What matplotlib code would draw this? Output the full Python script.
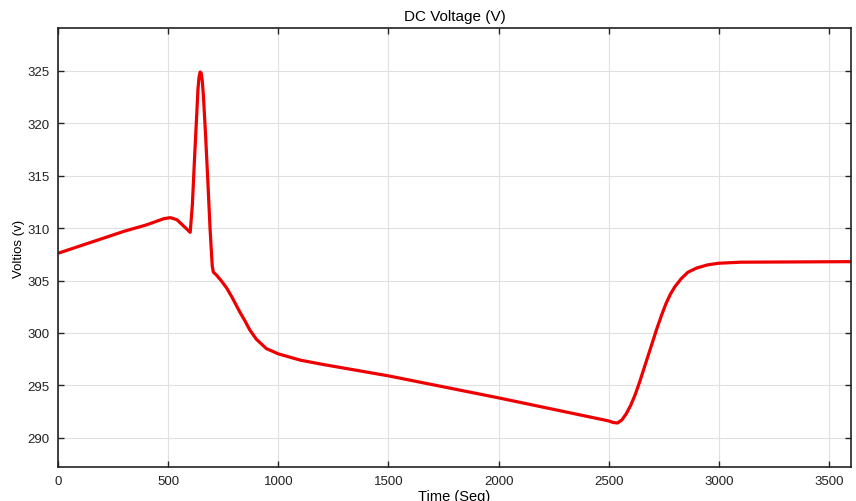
import matplotlib
matplotlib.use("Agg")
import matplotlib.pyplot as plt

# Datos (tiempo en segundos, voltaje DC en voltios)
tiempo = [0, 100, 200, 300, 400, 480, 510, 540, 570, 600, 610, 620, 630, 635,
          640, 645, 650, 655, 660, 670, 680, 690, 700, 705, 720, 740, 765, 790,
          825, 850, 870, 900, 946, 1000, 1100, 1200, 1500, 2000, 2500, 2520,
          2540, 2560, 2580, 2600, 2620, 2640, 2660, 2680, 2700, 2720, 2740,
          2760, 2780, 2800, 2830, 2860, 2900, 2950, 3000, 3100, 3600]
voltaje = [307.6, 308.3, 309.0, 309.7, 310.3, 310.9, 311.0, 310.8, 310.2, 309.6,
           312.3, 316.8, 321.0, 323.2, 324.4, 324.9, 324.8, 324.0, 322.6, 318.8,
           314.5, 310.0, 306.4, 305.8, 305.5, 305.0, 304.3, 303.4, 302.0, 301.1,
           300.3, 299.4, 298.5, 298.0, 297.4, 297.0, 295.9, 293.8, 291.6, 291.45,
           291.4, 291.7, 292.3, 293.1, 294.1, 295.3, 296.6, 297.9, 299.2, 300.5,
           301.7, 302.8, 303.7, 304.4, 305.2, 305.8, 306.2, 306.5, 306.65, 306.75,
           306.8]

xticks = [0, 500, 1000, 1500, 2000, 2500, 3000, 3500]
yticks = [290, 295, 300, 305, 310, 315, 320, 325]

plt.rcParams['font.family'] = ['Liberation Sans', 'DejaVu Sans']

fig = plt.figure(figsize=(8.56, 5.02), dpi=100)
ax = fig.add_axes([0.0678, 0.0677, 0.9264, 0.8745])

ax.plot(tiempo, voltaje, color='#ee0000', linewidth=2.3,
        solid_joinstyle='round', solid_capstyle='round')

ax.set_xlim(0, 3600)
ax.set_ylim(287.2, 329.1)
ax.set_xticks(xticks)
ax.set_yticks(yticks)
ax.grid(True, color='#e0e0e0', linewidth=0.8)
ax.set_axisbelow(True)

ax.tick_params(direction='in', top=True, right=True, length=4, width=1,
               labelsize=9.5, colors='#222222', pad=6)
for s in ax.spines.values():
    s.set_linewidth(1.2)
    s.set_color('#222222')

ax.set_title('DC Voltage (V)', fontsize=11, pad=6)
ax.set_xlabel('Time (Seg)', fontsize=10.5, labelpad=1)
ax.set_ylabel('Voltios (v)', fontsize=9.5, labelpad=2)

fig.savefig('out.png', dpi=100)
